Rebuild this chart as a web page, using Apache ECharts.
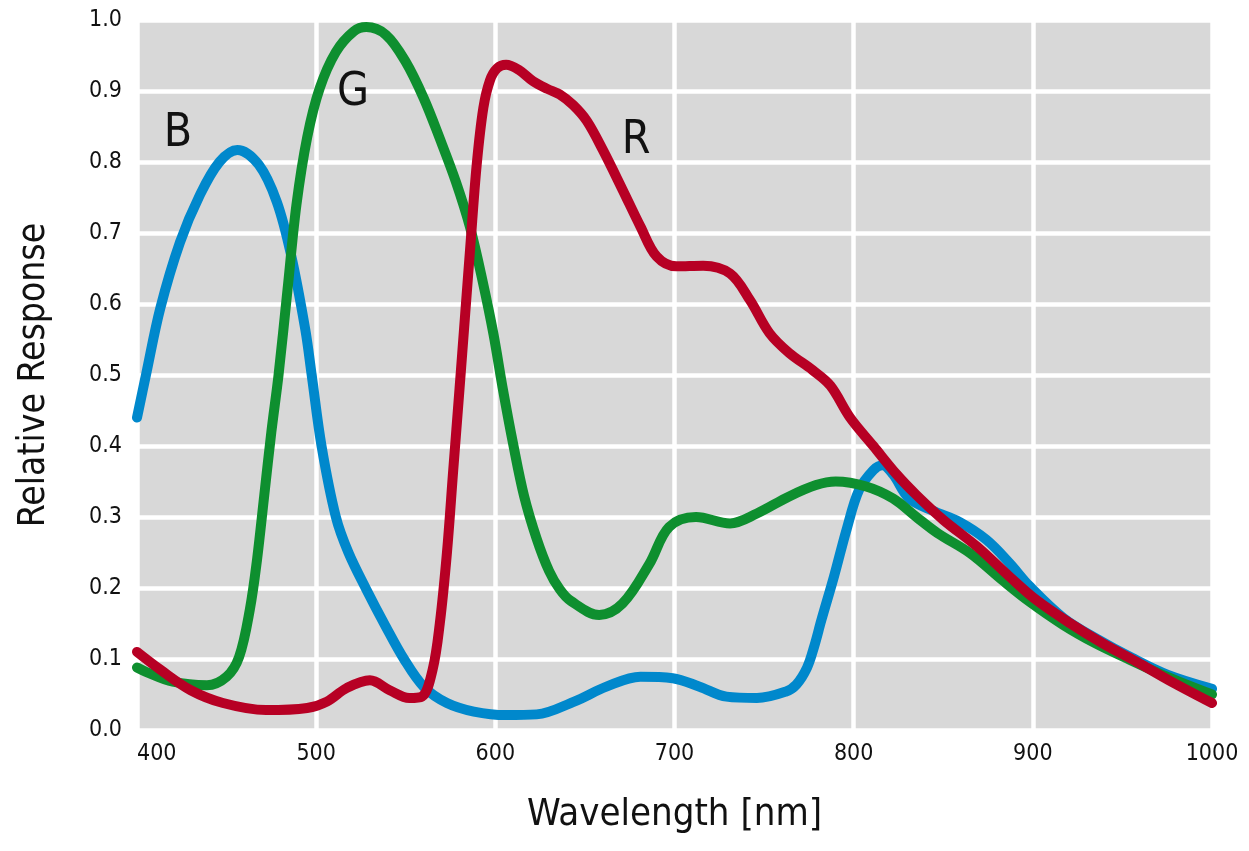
<!DOCTYPE html>
<html>
<head>
<meta charset="utf-8">
<script src="https://cdn.jsdelivr.net/npm/echarts@6/dist/echarts.min.js"></script>
<style>
html,body{margin:0;padding:0;background:#fff;}
#chart{width:1249px;height:851px;}
</style>
</head>
<body>
<div id="chart"></div>
<script>
// Wavelength (nm) / relative response
const blueWavelength = [400,405,413,424,435,446,456,468,478,486,494,497.5,503,511,518,528,539,549,560,573,588,606,623,644,662,681,699,714,729,746,762,768,774,778,782,789,796,803,811,816,822,831,845,859,874,887,898,917,936,955,975,1000];
const blueResponse   = [0.44,0.50,0.594,0.687,0.753,0.800,0.817,0.796,0.744,0.669,0.563,0.50,0.40,0.30,0.25,0.198,0.145,0.10,0.061,0.038,0.026,0.021,0.022,0.040,0.061,0.075,0.073,0.061,0.047,0.045,0.054,0.064,0.088,0.118,0.155,0.216,0.282,0.338,0.366,0.373,0.36,0.326,0.308,0.293,0.268,0.235,0.203,0.158,0.128,0.102,0.078,0.058];

const greenWavelength = [400,405,420,439,450,457,463,467,471,475,479,484,489,495,502,511,521,528,539,550,560,569,578,586,593,599,604,610,616,623,630,636,642,658,671,686,697,712,731,746,764,779,790,807,822,835,847,865,883,898,917,935,954,973,1000];
const greenResponse   = [0.088,0.082,0.068,0.063,0.075,0.103,0.17,0.24,0.33,0.42,0.50,0.62,0.74,0.835,0.904,0.955,0.984,0.99,0.979,0.941,0.89,0.833,0.772,0.707,0.631,0.557,0.483,0.402,0.330,0.270,0.224,0.198,0.182,0.162,0.178,0.234,0.286,0.30,0.291,0.305,0.329,0.345,0.35,0.343,0.326,0.30,0.277,0.249,0.211,0.181,0.148,0.122,0.099,0.077,0.050];

const redWavelength = [400,413,430,448,472,495,506,517,530,541,552,559,565,569,573,576.5,580,583,586,589.6,593.3,597,601,606,613,621,629,636,643.5,651,660,671,681,690,701,716,731,742,753,764,777,787,798,811,824,835,850,869,887,902,921,939,958,976,1000];
const redResponse   = [0.11,0.085,0.056,0.038,0.028,0.031,0.040,0.059,0.070,0.056,0.045,0.047,0.085,0.15,0.25,0.366,0.48,0.58,0.68,0.796,0.876,0.915,0.932,0.937,0.93,0.914,0.903,0.895,0.88,0.858,0.817,0.761,0.709,0.667,0.653,0.654,0.643,0.606,0.559,0.531,0.507,0.485,0.44,0.40,0.36,0.331,0.296,0.258,0.216,0.183,0.150,0.122,0.096,0.070,0.038];

const xTicks = [400,500,600,700,800,900,1000];
const yTicks = [0,0.1,0.2,0.3,0.4,0.5,0.6,0.7,0.8,0.9,1.0];
const curveLabels = ['B','G','R'];

const FONT = '"Liberation Sans Narrow","DejaVu Sans Condensed","Roboto Condensed","Noto Sans",sans-serif';

function pairs(xs, ys){ return xs.map((x,i)=>[x, ys[i]]); }

const chart = echarts.init(document.getElementById('chart'), null, {renderer:'canvas'});
const lineStyleBase = {width: 10, cap: 'round', join: 'round'};
chart.setOption({
  animation: false,
  backgroundColor: '#ffffff',
  grid: {left: 137, right: 37, top: 20, bottom: 121, show: true, backgroundColor: '#d8d8d8', borderWidth: 0},
  xAxis: {
    type: 'value', min: xTicks[0], max: xTicks[xTicks.length-1], interval: 100,
    axisLine: {show: false}, axisTick: {show: false},
    splitLine: {show: true, lineStyle: {color: '#ffffff', width: 4.5}},
    axisLabel: {color: '#111', fontFamily: FONT, fontSize: 23, margin: 13, alignMinLabel: 'left', formatter: v => String(v)},
    name: 'Wavelength [nm]', nameLocation: 'middle', nameGap: 66,
    nameTextStyle: {color: '#111', fontFamily: FONT, fontSize: 38}
  },
  yAxis: {
    type: 'value', min: yTicks[0], max: yTicks[yTicks.length-1], interval: 0.1,
    axisLine: {show: false}, axisTick: {show: false},
    splitLine: {show: true, lineStyle: {color: '#ffffff', width: 4.5}},
    axisLabel: {color: '#111', fontFamily: FONT, fontSize: 23, margin: 15, formatter: v => v.toFixed(1)},
    name: 'Relative Response', nameLocation: 'middle', nameGap: 84,
    nameTextStyle: {color: '#111', fontFamily: FONT, fontSize: 37}
  },
  series: [
    {name: 'B', type: 'line', data: pairs(blueWavelength, blueResponse), showSymbol: false, smooth: 0.35,
     lineStyle: Object.assign({color: '#0088cc'}, lineStyleBase), itemStyle: {color: '#0088cc'}, z: 2},
    {name: 'G', type: 'line', data: pairs(greenWavelength, greenResponse), showSymbol: false, smooth: 0.35,
     lineStyle: Object.assign({color: '#0e8f2f'}, lineStyleBase), itemStyle: {color: '#0e8f2f'}, z: 3},
    {name: 'R', type: 'line', data: pairs(redWavelength, redResponse), showSymbol: false, smooth: 0.35,
     lineStyle: Object.assign({color: '#b70024'}, lineStyleBase), itemStyle: {color: '#b70024'}, z: 4}
  ],
  graphic: [
    {type: 'text', x: 178, y: 134, z: 10, style: {text: curveLabels[0], font: '46px ' + FONT, fill: '#111', textAlign: 'center', textVerticalAlign: 'middle'}},
    {type: 'text', x: 353, y: 93, z: 10, style: {text: curveLabels[1], font: '46px ' + FONT, fill: '#111', textAlign: 'center', textVerticalAlign: 'middle'}},
    {type: 'text', x: 636, y: 141, z: 10, style: {text: curveLabels[2], font: '46px ' + FONT, fill: '#111', textAlign: 'center', textVerticalAlign: 'middle'}}
  ]
});
</script>
</body>
</html>
